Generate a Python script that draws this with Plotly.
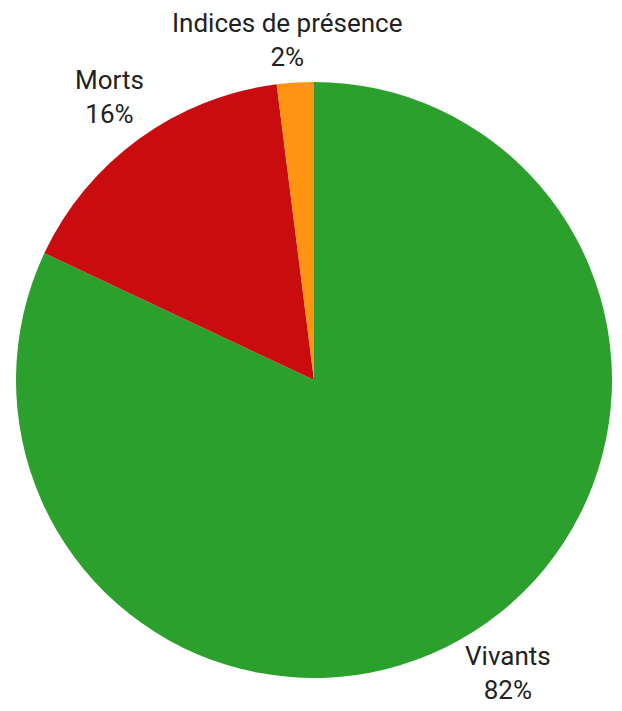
import math
import plotly.graph_objects as go

labels = ["Vivants", "Morts", "Indices de présence"]
values = [82, 16, 2]
colors = ["#2ca02c", "#c90d0f", "#ff9412"]

W, H = 622, 711
M = dict(l=8, r=18, t=74, b=41)
PLOT = W - M["l"] - M["r"]          # square plot area (596 px)
R = PLOT / 2                        # pie radius in px
FONT_SIZE = 26
CHAR_W = 12.2                       # approx. glyph advance at this size
BOX_H = 70
OFFSET = 8

fig = go.Figure(go.Pie(
    labels=labels,
    values=values,
    sort=False,
    direction="clockwise",
    rotation=0,
    marker=dict(colors=colors, line=dict(width=0)),
    textinfo="none",
    showlegend=False,
    hoverinfo="label+percent",
))

# outside labels positioned from the slice mid-angles
total = sum(values)
cum = 0.0
annotations = []
for lab, val in zip(labels, values):
    mid = (cum + val / 2) / total
    cum += val
    theta = 2 * math.pi * mid
    vx, vy = math.sin(theta), -math.cos(theta)   # screen direction (y down)
    ax, ay = R * vx, R * vy
    pct = f"{round(val / total * 100)}%"
    w = max(len(lab), len(pct)) * CHAR_W + 8
    m = max(abs(vx), abs(vy))
    dx = w / 2 * vx / m + OFFSET * vx
    dy = BOX_H / 2 * vy / m + OFFSET * vy
    px, py = ax + dx, ay + dy
    annotations.append(dict(
        x=0.5 + px / PLOT, y=0.5 - py / PLOT,
        xref="paper", yref="paper",
        text=f"{lab}<br>{pct}",
        showarrow=False, xanchor="center", yanchor="middle", align="center",
        font=dict(family="Roboto", size=FONT_SIZE, color="#222222"),
    ))

fig.update_layout(
    width=W, height=H,
    margin=M,
    paper_bgcolor="white",
    plot_bgcolor="white",
    annotations=annotations,
)
fig.write_html("out.html")
